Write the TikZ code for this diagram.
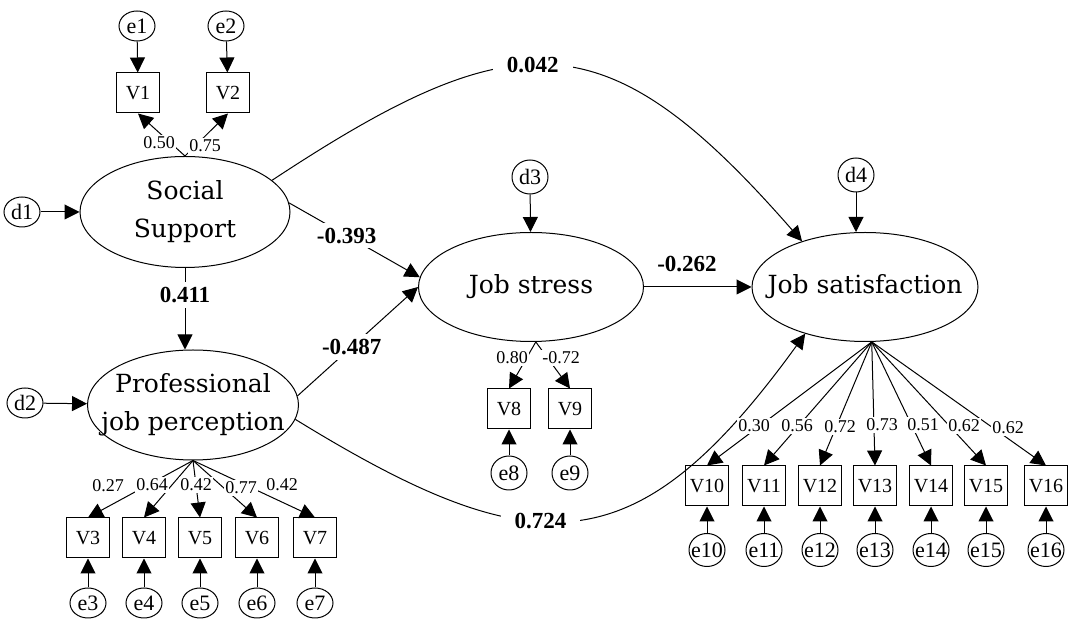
\documentclass[tikz,border=0pt]{standalone}
\usepackage{fontspec}
\setmainfont{Liberation Serif}
\newfontfamily\latfont{DejaVu Serif}
\usetikzlibrary{arrows.meta,shapes.geometric}
\tikzset{->/.style = {-{Triangle[length=7.5pt,width=7.5pt]}}}
\tikzset{latent/.style = {ellipse, draw, inner xsep=-15pt, inner ysep=0pt, align=center, font=\latfont\fontsize{12.5}{19}\selectfont}}
\tikzset{obs/.style = {rectangle, draw, inner sep=0pt, minimum width=21.5pt, minimum height=20pt, font=\fontsize{10}{12}\selectfont}}
\tikzset{err/.style = {ellipse, draw, inner xsep=-4pt, inner ysep=0pt, minimum width=18pt, minimum height=#1, font=\fontsize{11}{13}\selectfont}, err/.default=17pt}
\tikzset{coef/.style = {fill=white, inner sep=2.5pt, font=\bfseries\fontsize{11.5}{13}\selectfont}}
\tikzset{load/.style = {fill=white, inner sep=0.8pt, font=\fontsize{9}{10}\selectfont}}

\begin{document}
\begin{tikzpicture}[x=0.5pt, y=-0.5pt, line width=0.5pt]
      \useasboundingbox (0,0) rectangle (1072,624);
      % latent variables
      \node [latent, minimum width=105pt, minimum height=55.5pt] (ss) at (185,212) {Social\\Support};
      \node [latent, minimum width=105.5pt, minimum height=55pt] (pjp) at (193,405) {Professional\\job perception};
      \node [latent, minimum width=112.5pt, minimum height=54.5pt] (js) at (531,287) {Job stress};
      \node [latent, minimum width=113pt, minimum height=54.5pt] (jsat) at (865,287) {Job satisfaction};
      % disturbances
      \node [err=15pt] (d1) at (22,212) {d1};
      \node [err=15pt] (d2) at (25,403) {d2};
      \node [err] (d3) at (530,177) {d3};
      \node [err] (d4) at (856,175) {d4};
      % indicators
      \node [obs] (v1) at (138,93) {V1};
      \node [obs] (v2) at (228,93) {V2};
      \node [err=15pt] (e1) at (137,26) {e1};
      \node [err=15pt] (e2) at (226,26) {e2};
      \foreach \i/\x in {3/88, 4/144, 5/200, 6/257, 7/315} {
        \node [obs] (v\i) at (\x,538) {V\i};
        \node [err=15pt] (e\i) at (\x,603) {e\i};
      }
      \node [obs] (v8) at (509,409) {V8};
      \node [obs] (v9) at (570,409) {V9};
      \node [err] (e8) at (509,473) {e8};
      \node [err] (e9) at (570,473) {e9};
      \foreach \i/\x in {10/707, 11/764, 12/820, 13/875, 14/931, 15/986, 16/1046} {
        \node [obs] (v\i) at (\x,486) {V\i};
        \node [err=16.5pt] (e\i) at (\x,550) {e\i};
      }
      % measurement paths
      \draw [->] (d1) -- (ss);
      \draw [->] (d2) -- (pjp);
      \draw [->] (d3) -- (js);
      \draw [->] (d4) -- (d4 |- jsat.north);
      \draw [->] (e1) -- (v1);
      \draw [->] (e2) -- (v2);
      \draw [->] (ss.north) -- (v1.south);
      \draw [->] (ss.north) -- (v2.south);
      \foreach \i in {3,...,7} {
        \draw [->] (pjp.south) -- (v\i.north);
        \draw [->] (e\i) -- (v\i);
      }
      \foreach \i in {8,9} {
        \draw [->] (js.-85) -- (v\i.north);
        \draw [->] (e\i) -- (v\i);
      }
      \foreach \i in {10,...,16} {
        \draw [->] (jsat.-83) -- (v\i.north);
        \draw [->] (e\i) -- (v\i);
      }
      % structural paths
      \draw [->] (ss.south) -- (ss.south |- pjp.north) node [coef, pos=0.33] {0.411};
      \draw [->] (ss.5) -- (js.175) node [coef, pos=0.44] {-0.393};
      \draw [->] (pjp.5) -- (js.180) node [coef, pos=0.45] {-0.487};
      \draw [->] (js) -- (jsat) node [coef, pos=0.4, above=5pt] {-0.262};
      \draw [->] (ss.20) .. controls (518,18) and (607,18) .. (jsat.144) node [coef, inner xsep=7pt, pos=0.45] {0.042};
      \draw [->] (pjp.-8) .. controls (537,568) and (637,566) .. (jsat.218) node [coef, inner xsep=7pt, pos=0.42] {0.724};
      % loadings
      \node [load] (l1) at (159,143) {0.50};
      \node [load] (l2) at (205,146) {0.75};
      \foreach \i/\x/\y/\t in {3/108/486/0.27, 4/152/485/0.64, 5/196/485/0.42, 6/241/488/0.77, 7/282/485/0.42, 8/512/358/0.80, 9/561/358/-0.72}
        \node [load] (l\i) at (\x,\y) {\t};
      \foreach \i/\x/\y/\t in {10/754/426/0.30, 11/797/426/0.56, 12/840/427/0.72, 13/882/425/0.73, 14/923/425/0.51, 15/964/426/0.62, 16/1008/428/0.62}
        \node [load] (l\i) at (\x,\y) {\t};
\end{tikzpicture}
\end{document}
